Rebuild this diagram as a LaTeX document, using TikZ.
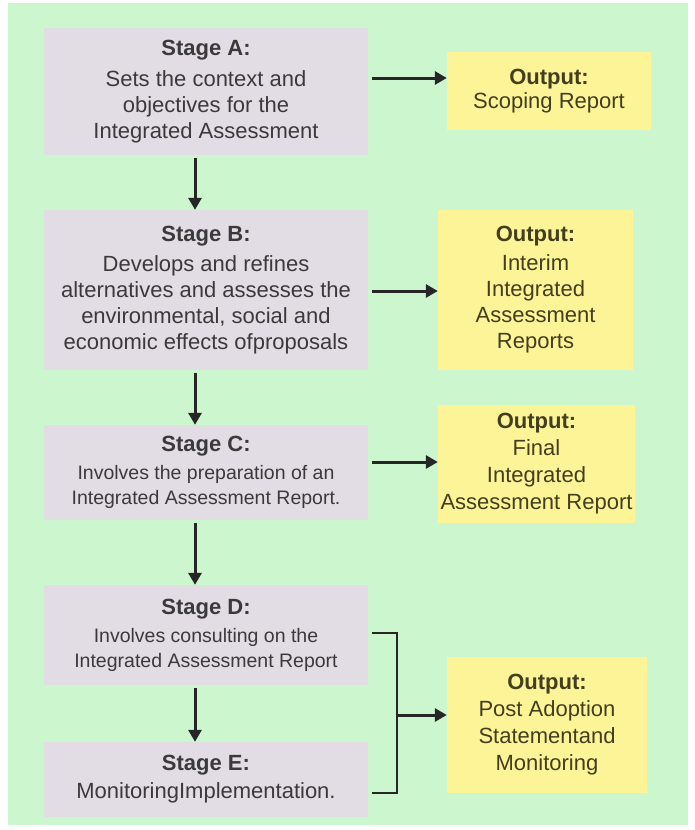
\documentclass[tikz,border=0pt]{standalone}
\usepackage{fontspec}
\setmainfont{Liberation Sans}
\usetikzlibrary{arrows.meta}
\definecolor{bggreen}{RGB}{204,246,206}
\definecolor{stagegray}{RGB}{226,221,228}
\definecolor{outyellow}{RGB}{253,244,152}
\definecolor{stagetext}{RGB}{58,58,58}
\definecolor{outtext}{RGB}{66,62,30}
\tikzset{
	stage/.style={fill=stagegray,text=stagetext,align=center,inner sep=0pt,minimum width=324pt},
	outbox/.style={fill=outyellow,text=outtext,align=center,inner sep=0pt},
	bigtext/.style={font=\fontsize{22}{26}\selectfont},
	smalltext/.style={font=\fontsize{19.5}{25}\selectfont},
	arr/.style={->,line width=3pt,draw=black!85},
	bracket/.style={line width=1.5pt,draw=black!85,line join=miter}
}
\begin{document}
\begin{tikzpicture}[>={Triangle[length=12pt,width=13pt]},line cap=butt,x=1pt,y=1pt]
					\def\xst{206}
					\def\xbr{397}
					\useasboundingbox (0,0) rectangle (694,-830);
					\fill[bggreen] (8,-3) rectangle (688,-825);
					\node[stage,bigtext,minimum height=127pt] (sa) at (\xst,-91.5){\textbf{Stage A:}\\[5pt]Sets the context and\\objectives for the\\Integrated Assessment};
					\node[stage,bigtext,minimum height=160pt] (sb) at (\xst,-290){\textbf{Stage B:}\\[4pt]Develops and refines\\alternatives and assesses the\\environmental, social and\\economic effects ofproposals};
					\node[stage,smalltext,minimum height=95pt] (sc) at (\xst,-472.5){\textbf{\fontsize{22}{26}\selectfont Stage C:}\\[3pt]Involves the preparation of an\\Integrated Assessment Report.};
					\node[stage,smalltext,minimum height=100pt] (sd) at (\xst,-635){\textbf{\fontsize{22}{26}\selectfont Stage D:}\\[3pt]Involves consulting on the\\Integrated Assessment Report};
					\node[stage,bigtext,minimum height=75pt] (se) at (\xst,-779.5){\textbf{Stage E:}\\[2pt]MonitoringImplementation.};
					\node[outbox,bigtext,minimum width=204pt,minimum height=78pt] (oa) at (549,-91){\textbf{Output:}\\[-2pt]Scoping Report};
					\node[outbox,bigtext,minimum width=195pt,minimum height=160pt] (ob) at (535.5,-290){\textbf{Output:}\\[3pt]Interim\\Integrated\\Assessment\\Reports};
					\node[outbox,font=\fontsize{22}{27}\selectfont,minimum width=197pt,minimum height=118pt] (oc) at (536.5,-464){\textbf{Output:}\\Final\\Integrated\\Assessment Report};
					\node[outbox,font=\fontsize{22}{27}\selectfont,minimum width=200pt,minimum height=136pt] (oe) at (547,-725){\textbf{Output:}\\Post Adoption\\Statementand\\Monitoring};
					\coordinate (jt) at (\xbr,-633);
					\coordinate (jm) at (\xbr,-715);
					\coordinate (jb) at (\xbr,-793);
					\foreach \a/\b in {sa/sb,sb/sc,sc/sd,sd/se}
					{
						\draw[arr,shorten <=3pt] ([xshift=-11pt]\a.south)--([xshift=-11pt]\b.north);
					}
					\foreach \a/\b/\y in {sa/oa/-78,sb/ob/-291,sc/oc/-462}
					{
						\draw[arr,shorten <=4pt] (\a.east |- 0,\y)--(\b.west |- 0,\y);
					}
					\draw[bracket,shorten <=4pt,shorten >=4pt] (sd.east |- jt)--(jt)--(jb)--(se.east |- jb);
					\draw[arr] (jm)--(oe.west |- jm);
				\end{tikzpicture}
\end{document}
